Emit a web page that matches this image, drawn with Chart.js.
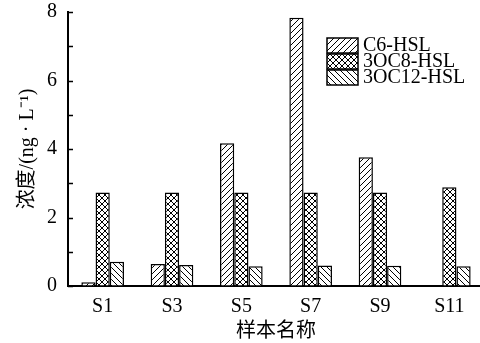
<!DOCTYPE html>
<html>
<head>
<meta charset="utf-8">
<script src="https://cdn.jsdelivr.net/npm/chart.js@4.4.0/dist/chart.umd.min.js"></script>
<style>
  html, body { margin: 0; padding: 0; background: #fff; overflow: hidden; }
</style>
</head>
<body>
<canvas id="myChart" width="484" height="343"></canvas>
<script>
var samples = ['S1', 'S3', 'S5', 'S7', 'S9', 'S11'];
var seriesNames = ['C6-HSL', '3OC8-HSL', '3OC12-HSL'];
var c6 = [0.11, 0.64, 4.17, 7.83, 3.76, null];
var oc8 = [2.73, 2.73, 2.73, 2.73, 2.73, 2.88];
var oc12 = [0.71, 0.61, 0.58, 0.60, 0.59, 0.58];
var yMin = 0, yMax = 8, yStep = 1;

var serif = "'Liberation Serif', 'Times New Roman', 'Noto Sans CJK SC', serif";

// hatch fills
function hatch(kind) {
  var s = 6;
  var c = document.createElement('canvas');
  c.width = s; c.height = s;
  var g = c.getContext('2d');
  g.fillStyle = '#fff';
  g.fillRect(0, 0, s, s);
  g.strokeStyle = '#000';
  g.lineWidth = 1;
  g.beginPath();
  if (kind == 'fwd' || kind == 'cross') {
    g.moveTo(0, s); g.lineTo(s, 0);
    g.moveTo(-1, 1); g.lineTo(1, -1);
    g.moveTo(s - 1, s + 1); g.lineTo(s + 1, s - 1);
  }
  if (kind == 'back' || kind == 'cross') {
    g.moveTo(0, 0); g.lineTo(s, s);
    g.moveTo(s - 1, -1); g.lineTo(s + 1, 1);
    g.moveTo(-1, s - 1); g.lineTo(1, s + 1);
  }
  g.stroke();
  return g.createPattern(c, 'repeat');
}
var fills = [hatch('fwd'), hatch('cross'), hatch('back')];

// ticks on the inside of the y axis
var innerTicks = {
  id: 'innerTicks',
  afterDraw: function (chart) {
    var ctx = chart.ctx, y = chart.scales.y, a = chart.chartArea;
    ctx.save();
    ctx.strokeStyle = '#000';
    ctx.lineWidth = 1.5;
    ctx.beginPath();
    y.ticks.forEach(function (t) {
      var py = Math.round(y.getPixelForValue(t.value)) + 0.5;
      ctx.moveTo(a.left, py);
      ctx.lineTo(a.left + 5, py);
    });
    ctx.stroke();
    ctx.restore();
  }
};

// stacked legend boxes, top right inside the plot
var boxLegend = {
  id: 'boxLegend',
  afterDraw: function (chart) {
    var ctx = chart.ctx, a = chart.chartArea;
    var x0 = 327, y0 = a.top + 26;
    ctx.save();
    ctx.font = '20px ' + serif;
    ctx.textBaseline = 'middle';
    chart.data.datasets.forEach(function (ds, i) {
      var by = y0 + i * 16;
      ctx.fillStyle = ds.backgroundColor;
      ctx.fillRect(x0, by, 31, 15);
      ctx.strokeStyle = '#000';
      ctx.lineWidth = 1.5;
      ctx.strokeRect(x0, by, 31, 15);
      ctx.fillStyle = '#000';
      ctx.fillText(ds.label, x0 + 36, by + 8);
    });
    ctx.restore();
  }
};

var datasets = [c6, oc8, oc12].map(function (vals, i) {
  return {
    label: seriesNames[i],
    data: vals,
    backgroundColor: fills[i],
    borderColor: '#000',
    borderWidth: 1.5,
    categoryPercentage: 0.615,
    barPercentage: 1
  };
});

var ctx = document.getElementById('myChart');
var myChart = new Chart(ctx, {
  type: 'bar',
  data: { labels: samples, datasets: datasets },
  options: {
    responsive: false,
    devicePixelRatio: 1,
    animation: false,
    layout: { autoPadding: false, padding: { top: 12, right: 0, left: 0, bottom: 0 } },
    plugins: {
      legend: { display: false },
      tooltip: { enabled: false }
    },
    scales: {
      x: {
        grid: { drawOnChartArea: false, drawTicks: false },
        border: { display: true, color: '#000', width: 2 },
        ticks: { color: '#000', font: { family: serif, size: 20 }, padding: 9 },
        title: {
          display: true, text: '样本名称', color: '#000',
          font: { family: serif, size: 20, lineHeight: 1.1 }, padding: { top: 0, bottom: 0 }
        },
        afterFit: function (s) {
          s.height = 57;
          s.paddingLeft = 0; s.paddingRight = 0;
        }
      },
      y: {
        min: yMin, max: yMax,
        grid: { drawOnChartArea: false, drawTicks: false },
        border: { display: true, color: '#000', width: 2 },
        ticks: {
          stepSize: yStep, color: '#000', padding: 11,
          font: { family: serif, size: 20 },
          callback: function (v) { return v % 2 === 0 ? v : ''; }
        },
        title: {
          display: true, text: '浓度/(ng · L⁻¹)', color: '#000',
          font: { family: serif, size: 20 }, padding: { top: 16, bottom: 0 }
        },
        afterFit: function (s) {
          s.width = 68;
          s.paddingTop = 0; s.paddingBottom = 0;
        }
      }
    }
  },
  plugins: [innerTicks, boxLegend]
});
</script>
</body>
</html>
